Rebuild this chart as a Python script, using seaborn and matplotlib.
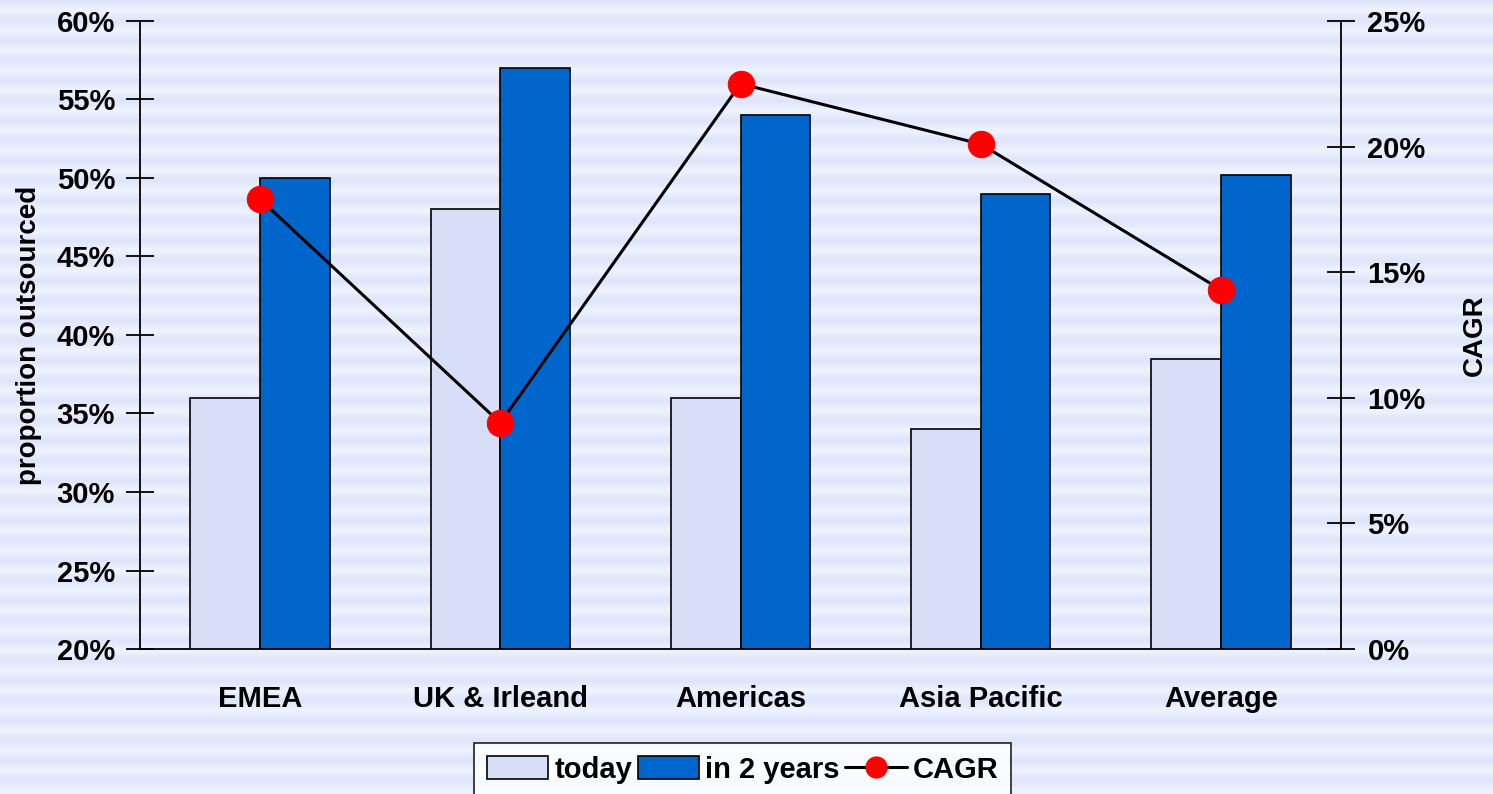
import numpy as np
import pandas as pd
import matplotlib
matplotlib.use('Agg')
import matplotlib.pyplot as plt
from matplotlib.patches import Patch
from matplotlib.lines import Line2D
from matplotlib.ticker import FuncFormatter
import seaborn as sns

regions = ['EMEA', 'UK & Irleand', 'Americas', 'Asia Pacific', 'Average']
today = [36.0, 48.0, 36.0, 34.0, 38.5]
in_2_years = [50.0, 57.0, 54.0, 49.0, 50.2]
cagr = [17.9, 9.0, 22.5, 20.1, 14.3]
left_ticks = [20, 25, 30, 35, 40, 45, 50, 55, 60]
right_ticks = [0, 5, 10, 15, 20, 25]

sns.set_style('white')
plt.rcParams['font.family'] = ['Liberation Sans', 'DejaVu Sans']
plt.rcParams['font.weight'] = 'bold'
plt.rcParams['text.color'] = 'black'
plt.rcParams['xtick.color'] = 'black'
plt.rcParams['ytick.color'] = 'black'
plt.rcParams['axes.labelcolor'] = 'black'

fig = plt.figure(figsize=(14.93, 7.94), dpi=100)

# striped background
bg = fig.add_axes([0, 0, 1, 1], zorder=-10)
rows = np.arange(794)
phase = (rows % 20) / 20.0
shade = 0.5 + 0.5 * np.cos(2 * np.pi * phase)
c_light = np.array([0.93, 0.95, 1.0])
c_dark = np.array([0.88, 0.90, 0.98])
img = c_light[None, :] * (1 - shade[:, None]) + c_dark[None, :] * shade[:, None]
img = np.repeat(img[:, None, :], 4, axis=1)
bg.imshow(img, aspect='auto', extent=[0, 1, 0, 1], interpolation='bilinear')
bg.axis('off')

ax = fig.add_axes([0.0938, 0.1826, 0.8044, 0.791])
ax.patch.set_alpha(0)

df = pd.DataFrame({
    'region': regions * 2,
    'value': today + in_2_years,
    'when': ['today'] * 5 + ['in 2 years'] * 5,
})
bar_colors = {'today': '#D9DEF8', 'in 2 years': '#0066CC'}
sns.barplot(data=df, x='region', y='value', hue='when', palette=bar_colors,
            width=0.58, edgecolor='black', linewidth=1.2, saturation=1,
            legend=False, ax=ax, zorder=2)
ax.set_xlim(-0.5, 4.5)
ax.set_ylim(20, 60)
ax.set_yticks(left_ticks)
ax.yaxis.set_major_formatter(FuncFormatter(lambda v, p: f'{v:.0f}%'))
ax.set_xlabel('')
ax.set_ylabel('proportion outsourced', fontsize=20, fontweight='bold')
ax.yaxis.set_label_coords(-0.082, 0.5)
ax.tick_params(axis='y', direction='inout', length=20, width=1.3, labelsize=21, pad=8)
ax.tick_params(axis='x', length=0, labelsize=21, pad=26)
for s in ['top', 'right']:
    ax.spines[s].set_visible(False)
for s in ['left', 'bottom']:
    ax.spines[s].set_linewidth(1.3)
    ax.spines[s].set_color('black')

ax2 = ax.twinx()
sns.lineplot(x=np.arange(len(regions)), y=cagr, color='black', linewidth=2.2,
             marker='o', markersize=19, markerfacecolor='#FF0000',
             markeredgecolor='#FF0000', ax=ax2, zorder=3)
ax2.set_ylim(0, 25)
ax2.set_yticks(right_ticks)
ax2.yaxis.set_major_formatter(FuncFormatter(lambda v, p: f'{v:.0f}%'))
ax2.set_ylabel('CAGR', fontsize=20, fontweight='bold')
ax2.yaxis.set_label_coords(1.101, 0.5)
ax2.tick_params(axis='y', direction='inout', length=20, width=1.3, labelsize=21, pad=9)
for s in ['top', 'left', 'bottom']:
    ax2.spines[s].set_visible(False)
ax2.spines['right'].set_linewidth(1.3)
ax2.spines['right'].set_color('black')

for lab in ax.get_xticklabels() + ax.get_yticklabels() + ax2.get_yticklabels():
    lab.set_fontweight('bold')

handles = [
    Patch(facecolor=bar_colors['today'], edgecolor='black', linewidth=1.2, label='today'),
    Patch(facecolor=bar_colors['in 2 years'], edgecolor='black', linewidth=1.2, label='in 2 years'),
    Line2D([], [], color='black', linewidth=2.2, marker='o', markersize=15,
           markerfacecolor='#FF0000', markeredgecolor='#FF0000', label='CAGR'),
]
leg = fig.legend(handles=handles, loc='lower center', bbox_to_anchor=(0.4975, -0.022),
                 ncol=3, fontsize=21, frameon=True, fancybox=False, edgecolor='black',
                 handlelength=2.1, handleheight=0.8, handletextpad=0.2, columnspacing=0.2,
                 borderpad=0.45)
leg.get_frame().set_linewidth(1.3)
leg.get_frame().set_facecolor('white')

fig.savefig('out.png', dpi=100)
